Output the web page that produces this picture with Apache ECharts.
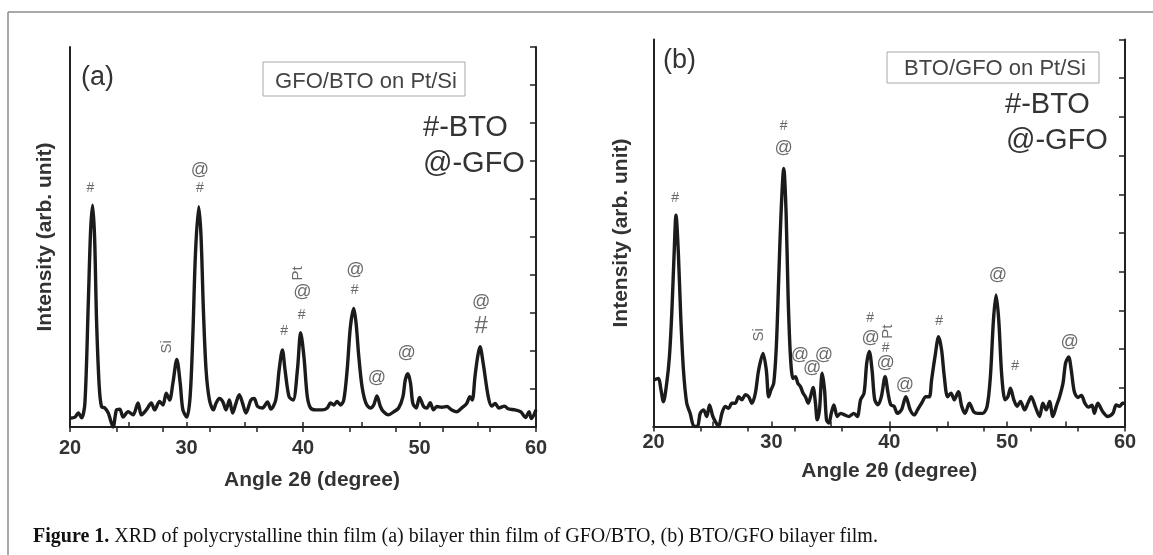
<!DOCTYPE html>
<html>
<head>
<meta charset="utf-8">
<title>XRD GFO/BTO bilayer</title>
<script src="https://cdn.jsdelivr.net/npm/echarts@6/dist/echarts.min.js"></script>
<style>
    html, body { margin: 0; padding: 0; background: #fff; }
    #main { width: 1153px; height: 555px; }
</style>
</head>
<body>
<div id="main"></div>
<script>
// (a) GFO/BTO on Pt/Si : angle 2theta (deg) and intensity (arb., right-axis tick units)
var angleA = [20.0, 20.43, 20.71, 21.0, 21.28, 21.57, 21.77, 21.94, 22.11, 22.28, 22.51, 22.71, 22.99, 23.28, 23.7,
    23.99, 24.27, 24.56, 24.99, 25.41, 25.84, 26.13, 26.55, 26.98, 27.26, 27.69, 27.98, 28.26, 28.55, 28.83,
    29.17, 29.46, 29.69, 30.03, 30.31, 30.54, 30.77, 31.05, 31.25, 31.45, 31.68, 31.97, 32.31, 32.54, 32.82,
    33.11, 33.39, 33.68, 33.96, 34.25, 34.53, 34.81, 35.1, 35.53, 35.81, 36.1, 36.52, 36.95, 37.24, 37.66,
    37.95, 38.23, 38.46, 38.8, 39.15, 39.52, 39.8, 40.08, 40.37, 40.65, 41.08, 41.65, 42.08, 42.36, 42.65,
    42.93, 43.22, 43.5, 43.79, 44.07, 44.36, 44.56, 44.79, 45.07, 45.41, 45.78, 46.07, 46.35, 46.64, 46.92,
    47.35, 47.78, 48.21, 48.58, 48.78, 49.01, 49.23, 49.43, 49.72, 50.0, 50.35, 50.63, 50.92, 51.2, 51.49,
    51.91, 52.34, 52.77, 53.19, 53.62, 54.05, 54.33, 54.53, 54.76, 54.99, 55.19, 55.47, 55.9, 56.2, 56.5,
    56.8, 57.3, 57.6, 58.2, 58.7, 59.1, 59.4, 59.6, 60.0];
var intensityA = [0.23, 0.26, 0.37, 0.24, 0.63, 3.26, 5.18, 5.84, 5.0, 2.8, 1.06, 0.53, 0.5, 0.37, 0.0,
    0.45, 0.47, 0.26, 0.4, 0.32, 0.63, 0.32, 0.45, 0.63, 0.45, 0.67, 0.58, 0.89, 0.71, 1.15,
    1.78, 1.15, 0.45, 0.26, 0.8, 2.38, 4.57, 5.8, 5.0, 3.08, 1.5, 0.71, 0.45, 0.63, 0.75,
    0.67, 0.45, 0.71, 0.37, 0.63, 0.85, 0.63, 0.37, 0.71, 0.75, 0.54, 0.5, 0.66, 0.47, 0.71,
    1.5, 2.03, 1.5, 0.8, 0.71, 1.5, 2.48, 1.85, 0.8, 0.5, 0.45, 0.45, 0.5, 0.63, 0.58,
    0.67, 0.58, 0.71, 1.5, 2.64, 3.12, 2.72, 1.85, 1.06, 0.62, 0.5, 0.58, 0.82, 0.54, 0.4,
    0.32, 0.4, 0.5, 0.8, 1.24, 1.4, 1.15, 0.62, 0.5, 0.78, 0.54, 0.5, 0.64, 0.45, 0.54,
    0.52, 0.54, 0.45, 0.4, 0.5, 0.62, 0.8, 0.71, 1.32, 1.85, 2.11, 1.67, 0.8, 0.55, 0.62,
    0.5, 0.55, 0.48, 0.45, 0.4, 0.25, 0.4, 0.22, 0.45];

// (b) BTO/GFO on Pt/Si
var angleB = [20.0, 20.42, 20.61, 20.84, 21.12, 21.35, 21.55, 21.74, 21.91, 22.11, 22.31, 22.54, 22.82, 23.11, 23.45,
    23.73, 23.96, 24.24, 24.52, 24.75, 25.03, 25.32, 25.52, 25.8, 26.09, 26.37, 26.65, 26.94, 27.22, 27.5,
    27.79, 28.07, 28.35, 28.64, 28.92, 29.29, 29.57, 29.77, 29.97, 30.2, 30.42, 30.62, 30.82, 31.05, 31.25,
    31.42, 31.62, 31.84, 32.04, 32.24, 32.47, 32.69, 32.89, 33.12, 33.32, 33.54, 33.74, 33.89, 34.08, 34.31,
    34.51, 34.68, 34.88, 35.08, 35.3, 35.59, 35.87, 36.21, 36.58, 37.0, 37.29, 37.57, 37.86, 38.09, 38.31,
    38.54, 38.77, 39.05, 39.33, 39.65, 39.9, 40.13, 40.41, 40.7, 41.04, 41.41, 41.78, 42.12, 42.4, 42.74,
    43.11, 43.4, 43.59, 43.88, 44.19, 44.44, 44.67, 44.95, 45.24, 45.52, 45.86, 46.15, 46.43, 46.8, 47.17,
    47.51, 47.93, 48.3, 48.58, 48.84, 49.06, 49.29, 49.55, 49.83, 50.06, 50.28, 50.57, 50.85, 51.14, 51.48,
    51.76, 52.04, 52.38, 52.75, 53.03, 53.32, 53.6, 53.88, 54.17, 54.45, 54.74, 54.96, 55.22, 55.44, 55.7,
    56.0, 56.3, 56.6, 56.9, 57.2, 57.4, 57.69, 58.1, 58.54, 58.97, 59.25, 59.54, 59.8, 60.0];
var intensityB = [1.2, 1.24, 0.99, 0.64, 1.12, 1.8, 2.92, 4.39, 5.46, 4.47, 2.84, 1.46, 0.6, 0.34, 0.0,
    0.0, 0.34, 0.43, 0.26, 0.56, 0.26, 0.09, 0.0, 0.34, 0.52, 0.47, 0.6, 0.6, 0.77, 0.69,
    0.82, 0.77, 0.6, 0.86, 1.46, 1.89, 1.46, 0.77, 0.95, 1.12, 2.06, 3.79, 5.51, 6.67, 5.51,
    3.36, 1.8, 1.24, 1.29, 1.12, 1.03, 0.86, 0.77, 0.6, 0.77, 1.01, 0.6, 0.17, 0.43, 1.38,
    0.95, 0.17, 0.09, 0.34, 0.56, 0.26, 0.34, 0.3, 0.26, 0.34, 0.26, 0.69, 0.86, 1.64, 1.94,
    1.46, 0.69, 0.56, 0.77, 1.29, 0.86, 0.56, 0.52, 0.34, 0.43, 0.77, 0.43, 0.3, 0.43, 0.6,
    0.77, 0.77, 1.2, 1.8, 2.32, 1.98, 1.29, 0.77, 0.86, 0.69, 0.9, 0.52, 0.34, 0.6, 0.38,
    0.34, 0.34, 0.52, 1.29, 2.75, 3.4, 2.75, 1.29, 0.69, 0.77, 0.99, 0.69, 0.52, 0.65, 0.43,
    0.6, 0.77, 0.52, 0.26, 0.6, 0.43, 0.65, 0.26, 0.52, 0.77, 1.12, 1.64, 1.8, 1.46, 0.9,
    0.75, 0.8, 0.6, 0.5, 0.55, 0.34, 0.6, 0.39, 0.26, 0.34, 0.56, 0.52, 0.6, 0.6];

// peak assignments: [angle, height, text]
var marksA = [[21.75, 6.29, '#'], [31.15, 6.29, '#'], [31.15, 6.76, '@'], [28.3, 2.11, 'Si'],
    [38.38, 2.51, '#'], [39.89, 2.95, '#'], [39.94, 3.56, '@'], [39.6, 4.04, 'Pt'],
    [44.44, 3.6, '#'], [44.5, 4.13, '@'], [46.35, 1.28, '@'], [48.9, 1.94, '@'], [55.3, 3.3, '@']];
var bigMarksA = [[55.3, 2.64, '#']];
var marksB = [[21.83, 5.9, '#'], [31.05, 7.75, '#'], [31.05, 7.19, '@'], [28.92, 2.37, 'Si'],
    [32.41, 1.85, '@'], [33.46, 1.5, '@'], [34.45, 1.85, '@'],
    [38.37, 2.79, '#'], [38.43, 2.28, '@'], [39.85, 2.45, 'Pt'], [39.7, 2.02, '#'], [39.7, 1.64, '@'],
    [41.32, 1.08, '@'], [44.24, 2.71, '#'], [49.21, 3.92, '@'], [50.68, 1.55, '#'], [55.3, 2.19, '@']];

var ink = '#222';
var txt = '#333';
var sans = 'Liberation Sans, Arial, sans-serif';
var serif = 'Liberation Serif, Times New Roman, serif';

function pairs(xs, ys) {
    var out = [];
    for (var i = 0; i < xs.length; i++) out.push([xs[i], ys[i]]);
    return out;
}

function markData(list, bigSize) {
    return list.map(function (m) {
        var t = m[2];
        var rot = (t === 'Si' || t === 'Pt') ? 90 : 0;
        var size = bigSize || (t === '@' ? 18 : (t === '#' ? 14 : 15));
        return {value: [m[0], m[1]], label: {formatter: t, fontSize: size, rotate: rot}};
    });
}

function bottomAxis(g, margin, gap, shift) {
    return {
        gridIndex: g, type: 'value', position: 'bottom', min: 20, max: 60, interval: 10,
        axisLine: {show: true, lineStyle: {color: ink, width: 2}},
        axisTick: {show: true, inside: true, length: 5, lineStyle: {color: ink, width: 1.5}},
        minorTick: {show: true, splitNumber: 2, length: 5, lineStyle: {color: ink, width: 1.5}},
        splitLine: {show: false},
        axisLabel: {fontSize: 20, fontWeight: 'bold', color: txt, fontFamily: sans, margin: margin},
        name: 'Angle 2θ (degree)', nameLocation: 'middle', nameGap: gap,
        nameTextStyle: {fontSize: 21, fontWeight: 'bold', color: txt, fontFamily: sans, padding: [0, 0, 0, shift]}
    };
}

function topAxis(g) {
    return {
        gridIndex: g, type: 'value', position: 'top', min: 20, max: 60, interval: 4,
        axisLine: {show: true, lineStyle: {color: ink, width: 2}},
        axisTick: {show: true, inside: true, length: 5, lineStyle: {color: ink, width: 1.5}},
        axisLabel: {show: false}, splitLine: {show: false}
    };
}

function leftAxis(g, gap) {
    return {
        gridIndex: g, type: 'value', position: 'left', min: 0, max: 10, interval: 1,
        axisLine: {show: true, lineStyle: {color: ink, width: 2}},
        axisTick: {show: false}, axisLabel: {show: false}, splitLine: {show: false},
        name: 'Intensity (arb. unit)', nameLocation: 'middle', nameRotate: 90, nameGap: gap,
        nameTextStyle: {fontSize: 21, fontWeight: 'bold', color: txt, fontFamily: sans}
    };
}

function rightAxis(g) {
    return {
        gridIndex: g, type: 'value', position: 'right', min: 0, max: 10, interval: 1,
        axisLine: {show: true, lineStyle: {color: ink, width: 2}},
        axisTick: {show: true, inside: true, length: 6, lineStyle: {color: ink, width: 1.5}},
        axisLabel: {show: false}, splitLine: {show: false}
    };
}

function curve(xi, yi, data) {
    return {
        type: 'line', xAxisIndex: xi, yAxisIndex: yi, data: data, symbol: 'none',
        smooth: 0.3, lineStyle: {color: '#1b1b1b', width: 3.4}, z: 3, silent: true
    };
}

function marks(xi, yi, data) {
    return {
        type: 'scatter', xAxisIndex: xi, yAxisIndex: yi, data: data, symbolSize: 0, silent: true, z: 4,
        label: {show: true, position: 'inside', color: '#444', fontFamily: sans}
    };
}

var chart = echarts.init(document.getElementById('main'));
chart.setOption({
    backgroundColor: '#fff',
    animation: false,
    grid: [
        {left: 70, top: 47, width: 466, height: 380},
        {left: 653.5, top: 39.5, width: 471.5, height: 387}
    ],
    xAxis: [bottomAxis(0, 11, 43, 18), topAxis(0), bottomAxis(1, 6, 34, 0), topAxis(1)],
    yAxis: [leftAxis(0, 14), rightAxis(0), leftAxis(1, 22), rightAxis(1)],
    series: [
        curve(0, 0, pairs(angleA, intensityA)),
        marks(0, 0, markData(marksA)),
        marks(0, 0, markData(bigMarksA, 24)),
        curve(2, 2, pairs(angleB, intensityB)),
        marks(2, 2, markData(marksB))
    ],
    graphic: [
        // figure frame
        {type: 'line', shape: {x1: 8, y1: 12, x2: 1153, y2: 12}, style: {stroke: '#8c8c8c', lineWidth: 1.5}},
        {type: 'line', shape: {x1: 8, y1: 12, x2: 8, y2: 555}, style: {stroke: '#8c8c8c', lineWidth: 1.5}},
        // panel (a)
        {type: 'text', x: 81, y: 78, style: {text: '(a)', fontSize: 27, fontFamily: sans, fill: txt, align: 'left', verticalAlign: 'middle'}},
        {type: 'rect', shape: {x: 263, y: 62, width: 202, height: 34}, style: {fill: 'none', stroke: '#a8a8a8', lineWidth: 1}},
        {type: 'text', x: 366, y: 82, style: {text: 'GFO/BTO on Pt/Si', fontSize: 22, fontFamily: sans, fill: '#444', align: 'center', verticalAlign: 'middle'}},
        {type: 'text', x: 423, y: 128, style: {text: '#-BTO', fontSize: 29, fontFamily: sans, fill: txt, align: 'left', verticalAlign: 'middle'}},
        {type: 'text', x: 423, y: 164, style: {text: '@-GFO', fontSize: 29, fontFamily: sans, fill: txt, align: 'left', verticalAlign: 'middle'}},
        // panel (b)
        {type: 'text', x: 663, y: 61, style: {text: '(b)', fontSize: 27, fontFamily: sans, fill: txt, align: 'left', verticalAlign: 'middle'}},
        {type: 'rect', shape: {x: 887, y: 52, width: 212, height: 31}, style: {fill: 'none', stroke: '#a8a8a8', lineWidth: 1}},
        {type: 'text', x: 995, y: 69, style: {text: 'BTO/GFO on Pt/Si', fontSize: 22, fontFamily: sans, fill: '#444', align: 'center', verticalAlign: 'middle'}},
        {type: 'text', x: 1005, y: 105, style: {text: '#-BTO', fontSize: 29, fontFamily: sans, fill: txt, align: 'left', verticalAlign: 'middle'}},
        {type: 'text', x: 1006, y: 141, style: {text: '@-GFO', fontSize: 29, fontFamily: sans, fill: txt, align: 'left', verticalAlign: 'middle'}},
        // caption
        {type: 'text', x: 33, y: 537, style: {
            text: '{b|Figure 1.} XRD of polycrystalline thin film (a) bilayer thin film of GFO/BTO, (b) BTO/GFO bilayer film.',
            fontSize: 20, fontFamily: serif, fill: '#111',
            align: 'left', verticalAlign: 'middle',
            rich: {b: {fontWeight: 'bold', fontSize: 20, fontFamily: serif, fill: '#111'}}
        }}
    ]
});
</script>
</body>
</html>
